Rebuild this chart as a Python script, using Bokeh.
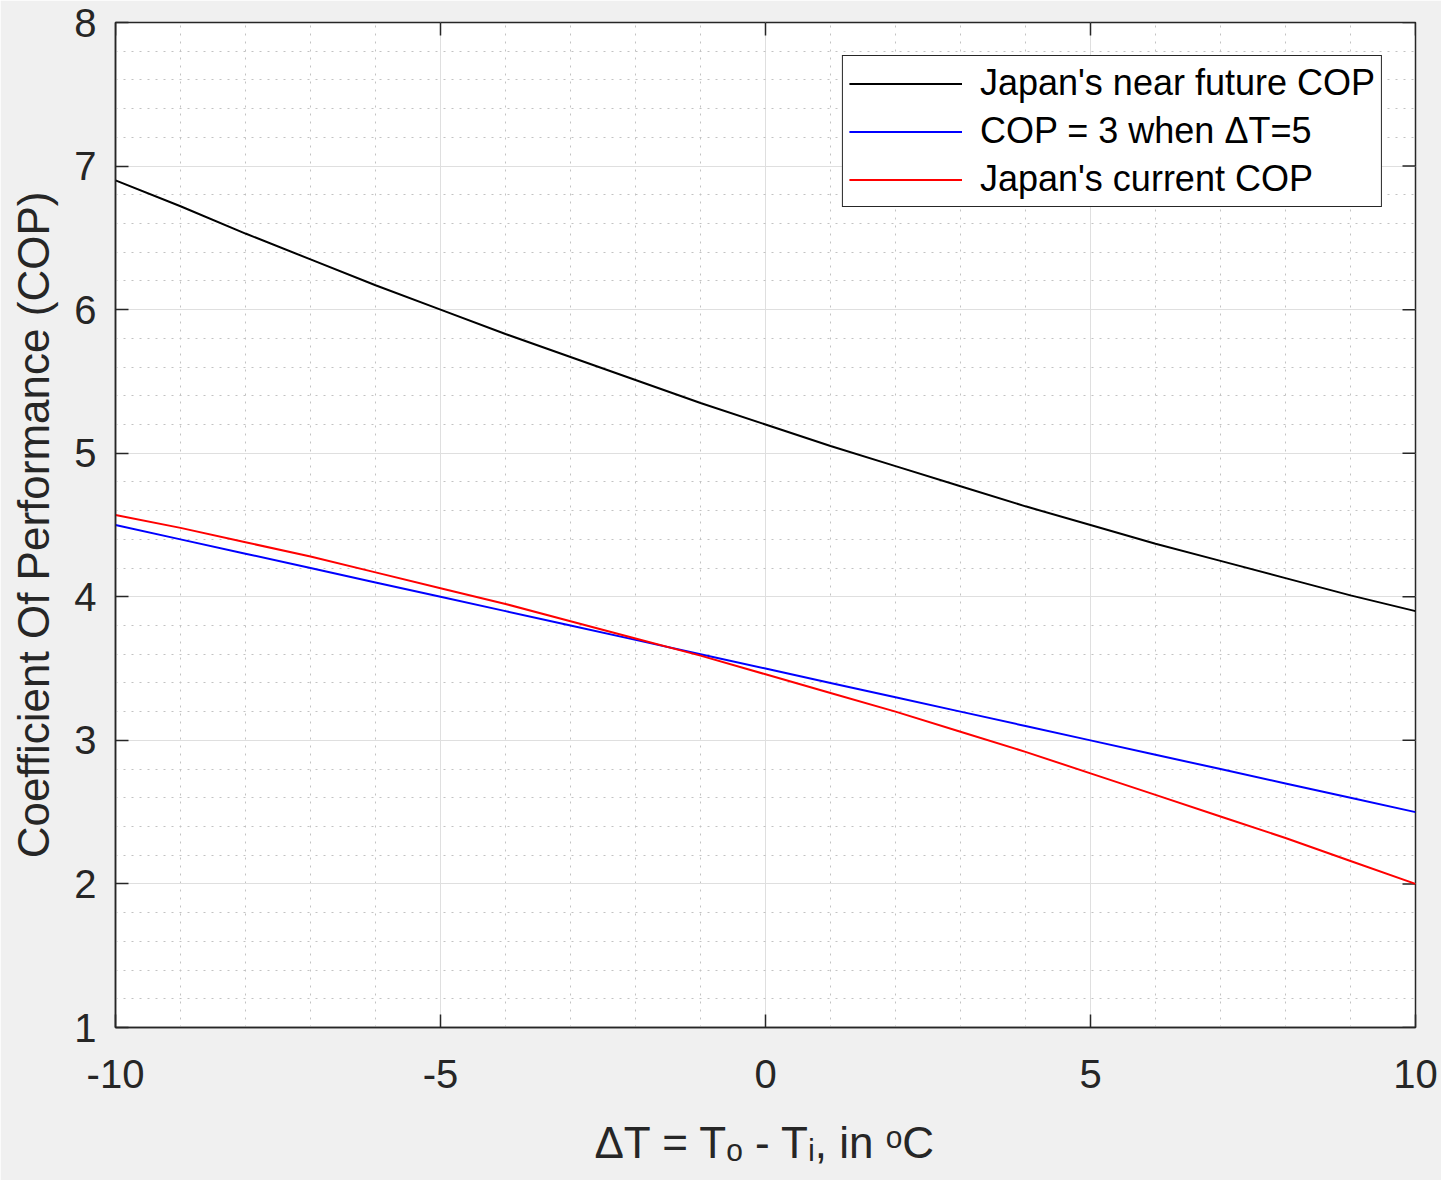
import math
from bokeh.plotting import figure
from bokeh.models import FixedTicker, Range1d, CustomJSTickFormatter
from bokeh.embed import file_html
from bokeh.resources import INLINE

# ---------------- data ----------------
delta_t = [-10, -9, -8, -7, -6, -5, -4, -3, -2, -1, 0, 1, 2, 3, 4, 5, 6, 7, 8, 9, 10]
near_future_cop = [6.90, 6.72, 6.53, 6.35, 6.17, 6.00, 5.83, 5.67, 5.51, 5.35, 5.20,
                   5.05, 4.91, 4.77, 4.63, 4.50, 4.37, 4.25, 4.13, 4.01, 3.90]
cop3_at_dt5 = [4.50, 4.40, 4.30, 4.20, 4.10, 4.00, 3.90, 3.80, 3.70, 3.60, 3.50,
               3.40, 3.30, 3.20, 3.10, 3.00, 2.90, 2.80, 2.70, 2.60, 2.50]
current_cop = [4.57, 4.48, 4.38, 4.28, 4.17, 4.06, 3.95, 3.83, 3.71, 3.59, 3.46,
               3.33, 3.20, 3.06, 2.92, 2.77, 2.62, 2.47, 2.32, 2.16, 2.00]
series_names = ["Japan's near future COP", "COP = 3 when \u0394T=5", "Japan's current COP"]
x_ticks = [-10, -5, 0, 5, 10]
y_ticks = [1, 2, 3, 4, 5, 6, 7, 8]
x_title = "\u0394T = T\u2092 - T\u1d62, in \u1d52C"
y_title = "Coefficient Of Performance (COP)"

# ---------------- style ----------------
FONT = "Liberation Sans"
AX = "#262626"

x_minor = [v for v in range(-10, 11) if v not in x_ticks]
y_minor = [round(1 + 0.2 * i, 1) for i in range(36)
           if abs(round(1 + 0.2 * i, 1) - round(1 + 0.2 * i)) > 1e-6]

p = figure(frame_width=1300, frame_height=1005,
           x_range=Range1d(-10, 10), y_range=Range1d(1, 8),
           output_backend="svg", toolbar_location=None,
           min_border_left=115, min_border_right=26, min_border_top=22, min_border_bottom=153,
           background_fill_color="white", border_fill_color="#f0f0f0",
           outline_line_color=AX, outline_line_width=1.5, outline_line_alpha=1.0)

xt = FixedTicker(ticks=x_ticks, minor_ticks=x_minor)
yt = FixedTicker(ticks=y_ticks, minor_ticks=y_minor)
p.xaxis.ticker = xt
p.yaxis.ticker = yt
p.xgrid.ticker = xt
p.ygrid.ticker = yt
p.xaxis.formatter = CustomJSTickFormatter(code="return String(tick)")

for g in (p.xgrid, p.ygrid):
    g.grid_line_color = "#dfdfdf"
    g.grid_line_width = 1
    g.minor_grid_line_color = "#c2c2c2"
    g.minor_grid_line_width = 1
    g.minor_grid_line_dash = "2 6"

for ax in (p.xaxis[0], p.yaxis[0]):
    ax.axis_line_color = AX
    ax.axis_line_width = 1.5
    ax.major_tick_line_color = AX
    ax.major_tick_line_width = 1.5
    ax.major_tick_in = 13
    ax.major_tick_out = 0
    ax.minor_tick_in = 0
    ax.minor_tick_out = 0
    ax.major_label_text_font = FONT
    ax.major_label_text_color = AX
    ax.major_label_text_font_size = "40px"
    ax.axis_label_text_font = FONT
    ax.axis_label_text_font_size = "44px"
    ax.axis_label_text_font_style = "normal"
    ax.axis_label_text_color = AX

p.xaxis.major_label_standoff = 32
p.yaxis.major_label_standoff = 19
p.xaxis.axis_label = x_title
p.xaxis.axis_label_standoff = 27
p.yaxis.axis_label = y_title
p.yaxis.axis_label_standoff = 13

# mirrored tick marks on the top and right edges of the box
p.ray(x=x_ticks, y=[p.y_range.end] * len(x_ticks), length=13, length_units="screen",
      angle=-math.pi / 2, line_color=AX, line_width=1.5)
p.ray(x=[p.x_range.end] * len(y_ticks), y=y_ticks, length=13, length_units="screen",
      angle=math.pi, line_color=AX, line_width=1.5)

# ---------------- lines ----------------
p.line(delta_t, near_future_cop, line_color="black", line_width=2, legend_label=series_names[0])
p.line(delta_t, cop3_at_dt5, line_color="#0000ff", line_width=2, legend_label=series_names[1])
p.line(delta_t, current_cop, line_color="#ff0000", line_width=2, legend_label=series_names[2])

lg = p.legend[0]
lg.location = "top_right"
lg.margin = 33
lg.padding = 6
lg.spacing = 6
lg.glyph_width = 113
lg.glyph_height = 41
lg.label_height = 41
lg.label_standoff = 18
lg.label_text_font = FONT
lg.label_text_font_size = "36px"
lg.label_text_color = "black"
lg.border_line_color = AX
lg.border_line_width = 1.5
lg.border_line_alpha = 1.0
lg.background_fill_color = "white"
lg.background_fill_alpha = 1.0

open("out.html", "w").write(file_html(p, INLINE))
